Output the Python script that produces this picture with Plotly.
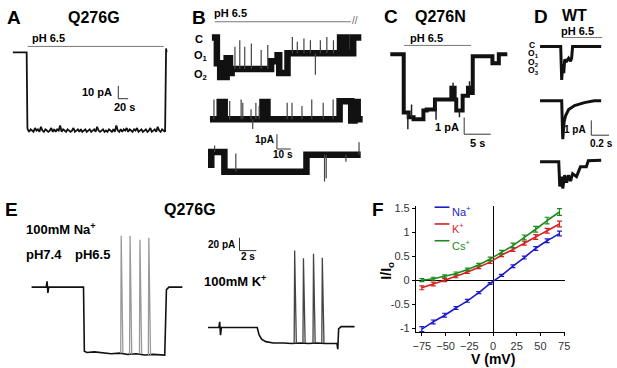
import plotly.graph_objects as go

W, H = 617, 368
FONT = "Liberation Sans, Arial, sans-serif"

# ======================= DATA =======================
# Panel A: Q276G macroscopic current, pH 6.5 (time s, current pA)
A_t_pre = [0, 28, 29.5]
A_I_pre = [0, 0, -58]
A_noise_dt = 3
A_noise_t0 = 30
A_noise = [-60, -62, -60, -61, -62, -59, -61, -60, -62, -58, -61, -62, -60, -61, -62, -61,
           -59, -62, -60, -62, -60, -61, -57, -62, -60, -61, -62, -60, -61, -62, -61, -59,
           -62, -61, -60, -62, -60, -62, -61, -60, -62, -61, -60, -62, -61, -60, -62, -58,
           -61, -62, -61, -60, -62, -61, -62, -60, -61, -62, -60, -62, -57, -61, -62, -60,
           -62, -60, -61, -59, -62, -60, -61, -62, -60, -61, -59, -62, -61, -60, -62, -61,
           -60, -62, -61, -59, -62, -61, -60, -62, -58, -61, -62, -60, -61, -62]
A_t_post = [311, 312]
A_I_post = [3, 0]

# Panel B: single channel rows (time s, current pA), dwell levels
B1_t = [0, 3.6, 6.0, 10.7, 13.1, 14.3, 42.9, 47.6, 48.8, 54.8, 92.9, 97.6, 102.4, 108.3]
B1_I = [0, -1.73, -2.67, -1.40, -2.40, -2.13, -1.60, -1.20, -2.40, -1.07, 0, -1.07, 0, 0]
B1_spk_t = [16.7, 20.2, 23.8, 28.6, 35.7, 40.5, 58.3, 61.9, 66.7, 71.4, 75.0, 78.6, 83.3, 88.1]
B1_spk_I = [-0.62, -0.18, -0.62, -0.40, -0.84, -0.51, 0.04, -0.29, -0.07, -0.18, -2.51, -0.18, 0.04, -0.18]

B2_t = [0, 7.1, 10.7, 38.1, 41.7, 94.0, 102.4, 104.8, 107.1, 110.7]
B2_I = [-1.13, 0.05, -1.13, 0.05, -1.13, 0.1, -1.2, 0.05, -1.13, -1.13]
B2_spk_t = [2.9, 14.3, 22.6, 23.8, 29.8, 31.0, 33.3, 35.7, 56.0, 59.5, 66.7, 73.8, 82.1, 89.3]
B2_spk_I = [0.22, 0.11, 0.22, 0.0, -0.44, -1.78, 0.0, -0.22, 0.0, 0.0, -0.22, 0.22, 0.0, 0.22]

B3_t = [0, 2.4, 11.9, 71.4, 110.7]
B3_I = [-0.8, 0.07, -1.27, -0.13, -0.13]
B3_spk_t = [4.8, 20.2, 84.5, 85.7, 100.0, 109.5]
B3_spk_I = [0.5, -0.04, -1.93, -1.71, -0.6, 0.73]

# Panel C: Q276N (time s, current pA)
C_t = [0, 2.53, 3.46, 4.38, 6.23, 6.85, 8.4, 11.48, 12.1, 12.4, 13.6, 14.6, 15.2, 15.5, 19.2, 20.4, 22.0]
C_I = [0, -3.47, -3.76, -3.88, -3.35, -3.29, -2.7, -2.0, -2.7, -3.35, -2.47, -2.0, -2.3, -0.12, -0.53, 0, 0]
C_spk_t = [3.3, 4.0, 8.6, 11.8, 13.0, 14.9]
C_spk_I = [-4.47, -3.0, -3.9, -1.7, -3.76, -1.6]

# Panel D: WT, three sweeps (time s, current pA)
D1_t = [0, 0.233, 0.244, 0.256, 0.267, 0.278, 0.300, 0.322, 0.344, 0.356, 0.367, 0.689]
D1_I = [0, 0, -2.27, -1.2, -1.8, -0.9, -1.0, -0.8, -1.0, -0.8, 0, 0]
D2_t = [0, 0.244, 0.256, 0.272, 0.289, 0.322, 0.389, 0.500, 0.611, 0.689]
D2_I = [0, 0, -2.6, -1.4, -1.0, -0.6, -0.33, -0.13, 0, 0]
D3_t = [0, 0.211, 0.222, 0.244, 0.256, 0.278, 0.300, 0.322, 0.344, 0.367, 0.411, 0.456, 0.522, 0.544, 0.689]
D3_I = [0, 0, -1.67, -1.0, -1.8, -0.9, -1.4, -0.9, -1.3, -0.8, -1.0, -0.33, -0.33, 0.07, 0.1]

# Panel E: Q276G in 100 mM Na+ and 100 mM K+ (time s, current pA)
ENa_t = [0, 1.75, 1.85, 1.95, 2.05, 6.2, 6.3, 6.6, 7.5, 8.5, 9.5, 10.5, 11.5, 12.5, 13.5, 14.5, 15.5, 15.9, 16.1, 16.4, 18.0]
ENa_I = [0, 0, 9, -9, 0, 0, -100, -102, -101, -103, -104, -103, -105, -104, -106, -105, -106, -106, -4, 0, 0]
ENa_spk_t = [10.7, 11.76, 12.94, 14.0]
ENa_spk_I = [80, 80, 74, 77]

EK_t = [0, 1.3, 1.4, 1.5, 1.6, 5.88, 6.1, 6.4, 6.9, 7.8, 9, 10, 11, 12, 13, 14, 15.4, 15.5, 15.6, 15.9, 17.5]
EK_I = [0, 0, 9, -12, 0, 0, -11, -18, -22, -24, -24, -25, -24, -25, -24, -25, -25, -34, -2, 1.5, 1.5]
EK_spk_t = [10.35, 11.4, 12.6, 13.65]
EK_spk_I = [120, 108, 115, 109]

# Panel F: I/Io vs V
V = [-75, -63, -51, -39, -27, -15, -3, 9, 21, 33, 45, 57, 70]
Na = [-1.02, -0.87, -0.73, -0.58, -0.43, -0.26, -0.07, 0.10, 0.29, 0.47, 0.66, 0.82, 0.97]
K = [-0.16, -0.08, 0.00, 0.08, 0.17, 0.27, 0.38, 0.52, 0.64, 0.77, 0.90, 1.03, 1.17]
Cs = [0.00, 0.03, 0.08, 0.14, 0.22, 0.32, 0.44, 0.58, 0.72, 0.89, 1.06, 1.24, 1.42]
Na_err = [0.05, 0.04, 0.04, 0.03, 0.03, 0.02, 0.02, 0.02, 0.03, 0.03, 0.04, 0.04, 0.05]
K_err = [0.04, 0.04, 0.03, 0.03, 0.03, 0.03, 0.03, 0.03, 0.04, 0.04, 0.05, 0.05, 0.06]
Cs_err = [0.03, 0.03, 0.03, 0.03, 0.03, 0.03, 0.04, 0.04, 0.05, 0.05, 0.06, 0.07, 0.07]
F_xticks = [-75, -50, -25, 0, 25, 50, 75]
F_yticks = [-1, -0.5, 0, 0.5, 1, 1.5]
F_yticklabels = ["-1", "-0.5", "0", "0.5", "1", "1.5"]

# ======================= LAYOUT HELPERS =======================
def px(x):
    return x / W


def py(y):
    return 1 - y / H


# panel geometry: origin pixel for (t=0, I=0), scale px/unit, box pixels
PAN = {
    'A': dict(origin=(10, 49), scale=(0.5, 1.3), box=(4, 38, 172, 138)),
    'B1': dict(origin=(212, 34), scale=(1.4, 15), box=(205, 24, 368, 86)),
    'B2': dict(origin=(210, 100), scale=(1.4, 15), box=(205, 88, 368, 132)),
    'B3': dict(origin=(208, 151), scale=(1.4, 15), box=(203, 134, 368, 188)),
    'C': dict(origin=(393, 51), scale=(5.4, 17), box=(388, 40, 520, 136)),
    'D1': dict(origin=(545, 43), scale=(90, 15), box=(540, 34, 612, 84)),
    'D2': dict(origin=(545, 98), scale=(90, 15), box=(540, 88, 612, 142)),
    'D3': dict(origin=(545, 160), scale=(90, 15), box=(540, 148, 612, 194)),
    'EN': dict(origin=(29, 287), scale=(8.5, 0.65), box=(24, 226, 190, 362)),
    'EK': dict(origin=(208, 328), scale=(8.5, 0.65), box=(203, 242, 362, 362)),
}

fig = go.Figure()
layout = dict(
    width=W, height=H, margin=dict(l=0, r=0, t=0, b=0),
    paper_bgcolor="white", plot_bgcolor="rgba(0,0,0,0)", showlegend=False,
    font=dict(family=FONT, color="black"),
)

axis_ids = {}
for i, (name, p) in enumerate(PAN.items()):
    k = i + 2
    (ox, oy), (sx, sy), (x0, y0, x1, y1) = p['origin'], p['scale'], p['box']
    xr = [(x0 - ox) / sx, (x1 - ox) / sx]
    yr = [(oy - y1) / sy, (oy - y0) / sy]
    layout[f"xaxis{k}"] = dict(domain=[px(x0), px(x1)], range=xr, visible=False,
                               anchor=f"y{k}", fixedrange=True)
    layout[f"yaxis{k}"] = dict(domain=[py(y1), py(y0)], range=yr, visible=False,
                               anchor=f"x{k}", fixedrange=True)
    axis_ids[name] = (f"x{k}", f"y{k}")


def step_level(ts, Is, t):
    lvl = Is[0]
    for tt, ii in zip(ts, Is):
        if tt <= t:
            lvl = ii
    return lvl


def add_line(name, t, I, width, color="#111", shape="linear"):
    xa, ya = axis_ids[name]
    fig.add_trace(go.Scatter(x=t, y=I, mode="lines", xaxis=xa, yaxis=ya,
                             line=dict(color=color, width=width, shape=shape),
                             hoverinfo="skip"))


def add_spikes(name, lt, lI, st, sI, width=1, color="#444", tri=None):
    xs, ys = [], []
    for t, top in zip(st, sI):
        base = step_level(lt, lI, t)
        if tri:
            xs += [t - tri[0], t, t + tri[1], None]
            ys += [base, top, base, None]
        else:
            xs += [t, t, None]
            ys += [base, top, None]
    add_line(name, xs, ys, width, color)


# Panel A
A_t = A_t_pre + [A_noise_t0 + A_noise_dt * i for i in range(len(A_noise))] + A_t_post
A_I = A_I_pre + A_noise + A_I_post
add_line('A', A_t, A_I, 1.8)

# Panel B
add_line('B1', B1_t, B1_I, 6.5, shape="hv")
add_spikes('B1', B1_t, B1_I, B1_spk_t, B1_spk_I, 1.2)
add_line('B2', B2_t, B2_I, 6.5, shape="hv")
add_spikes('B2', B2_t, B2_I, B2_spk_t, B2_spk_I, 1.2)
add_line('B3', B3_t, B3_I, 6.5, shape="hv")
add_spikes('B3', B3_t, B3_I, B3_spk_t, B3_spk_I, 1.2)

# Panel C
add_line('C', C_t, C_I, 4, shape="hv")
add_spikes('C', C_t, C_I, C_spk_t, C_spk_I, 1.5, "#222")

# Panel D
add_line('D1', D1_t, D1_I, 3)
add_line('D2', D2_t, D2_I, 3)
add_line('D3', D3_t, D3_I, 3)

# Panel E
add_line('EN', ENa_t, ENa_I, 1.6)
add_spikes('EN', ENa_t, ENa_I, ENa_spk_t, ENa_spk_I, 1.3, "#999", tri=(0.06, 0.2))
add_line('EK', EK_t, EK_I, 1.6)
add_spikes('EK', EK_t, EK_I, EK_spk_t, EK_spk_I, 1.3, "#444", tri=(0.06, 0.2))

# Panel F
COL = {"Na": "#1c1cc8", "K": "#d81e1e", "Cs": "#1e8a1e"}
for key, vals, err in [("Na", Na, Na_err), ("K", K, K_err), ("Cs", Cs, Cs_err)]:
    fig.add_trace(go.Scatter(
        x=V, y=vals, mode="lines", line=dict(color=COL[key], width=1.6, shape="spline"),
        error_y=dict(type="data", array=err, color=COL[key], thickness=1.2, width=2.5),
        xaxis="x", yaxis="y", hoverinfo="skip"))

layout["xaxis"] = dict(domain=[px(419), px(570)], range=[-81.25, 75.5], tickvals=F_xticks,
                       ticks="outside", ticklen=3, tickcolor="black", showline=True,
                       linecolor="black", linewidth=1, showgrid=False, zeroline=True,
                       zerolinecolor="black", zerolinewidth=1,
                       tickfont=dict(size=11, color="#333", family=FONT), anchor="y",
                       fixedrange=True)
layout["yaxis"] = dict(domain=[py(333), py(205)], range=[-1.09, 1.54], tickvals=F_yticks,
                       ticktext=F_yticklabels, ticks="outside", ticklen=3, tickcolor="black",
                       showline=True, linecolor="black", linewidth=1, showgrid=False,
                       zeroline=True, zerolinecolor="black", zerolinewidth=1,
                       tickfont=dict(size=11, color="#333", family=FONT), anchor="x",
                       fixedrange=True)

# ======================= DECORATIONS =======================
shapes = []


def seg(x0, y0, x1, y1, color="#777", width=1):
    shapes.append(dict(type="line", xref="paper", yref="paper", x0=px(x0), y0=py(y0),
                       x1=px(x1), y1=py(y1), line=dict(color=color, width=width)))


# pH application bars
seg(25, 43, 163, 43)
seg(215, 18, 353, 18)
seg(407, 42, 475, 42)
seg(567, 34, 608, 34)


def scalebar(name, x0, y0, dt, dI):
    sx, sy = PAN[name]['scale']
    seg(x0, y0, x0, y0 - dI * sy, "#333", 1)
    seg(x0, y0, x0 + dt * sx, y0, "#333", 1)


scalebar('A', 117, 96, 20, 10)
scalebar('B2', 278, 147, 10, 1)
scalebar('C', 468, 132, 5, 1)
scalebar('D2', 597, 133, 0.2, 1)
scalebar('EN', 240, 250, 2, 20)

# F legend samples
for yy, key in [(206, "Na"), (223, "K"), (240, "Cs")]:
    seg(438, yy, 453, yy, COL[key], 1.6)

layout["shapes"] = shapes

ann = []


def txt(s, x, y, size, xanchor="center", color="black", bold=True, angle=0):
    ann.append(dict(text=f"<b>{s}</b>" if bold else s, x=px(x), y=py(y), xref="paper",
                    yref="paper", showarrow=False, xanchor=xanchor, yanchor="middle",
                    textangle=angle, font=dict(size=size, color=color, family=FONT)))


# panel letters
for L, x, y in [("A", 11, 14), ("B", 199, 14), ("C", 394, 13), ("D", 546, 13), ("E", 9, 208), ("F", 381, 208)]:
    txt(L, x, y, 19)

txt("Q276G", 92, 14, 16)
txt("Q276N", 444, 13, 16)
txt("WT", 580, 12, 16)
txt("Q276G", 190, 208, 16)

txt("pH 6.5", 46, 34, 11)
txt("pH 6.5", 231, 9, 11)
txt("pH 6.5", 430, 34, 11)
txt("pH 6.5", 583, 27, 11)
txt("//", 357, 17, 10, color="#666", bold=False)

txt("10 pA", 113, 89, 11, "right")
txt("20 s", 111, 104, 11, "left")
txt("1pA", 277, 137, 10, "right")
txt("10 s", 284, 153, 10)
txt("1 pA", 465, 125, 11, "right")
txt("5 s", 482, 141, 11)
txt("1 pA", 594, 127, 10, "right")
txt("0.2 s", 607, 141, 10)
txt("20 pA", 237, 244, 10, "right")
txt("2 s", 249, 256, 10)

# state labels
txt("C", 193, 35, 11, "left")
txt("O<sub>1</sub>", 192, 53, 11, "left")
txt("O<sub>2</sub>", 192, 72, 11, "left")
txt("C", 532, 42, 8.5, "left")
txt("O<sub>1</sub>", 531, 50.5, 8.5, "left")
txt("O<sub>2</sub>", 531, 59, 8.5, "left")
txt("O<sub>3</sub>", 531, 67.5, 8.5, "left")

# E labels
txt("100mM Na<sup>+</sup>", 21, 228, 13, "left")
txt("pH7.4", 21, 254, 13, "left")
txt("pH6.5", 71, 254, 13, "left")
txt("100mM K<sup>+</sup>", 202, 281, 13, "left")

# F labels
txt("V (mV)", 497, 360, 14)
txt("I/I<sub>o</sub>", 390, 270, 14, angle=-90)
txt("Na<sup>+</sup>", 454, 210, 11, "left", COL["Na"], bold=False)
txt("K<sup>+</sup>", 454, 227, 11, "left", COL["K"], bold=False)
txt("Cs<sup>+</sup>", 454, 244, 11, "left", COL["Cs"], bold=False)

layout["annotations"] = ann
fig.update_layout(**layout)
fig.write_html("out.html", config={"displayModeBar": False, "staticPlot": True},
               post_script="document.body.style.margin='0';document.body.style.overflow='hidden';")
